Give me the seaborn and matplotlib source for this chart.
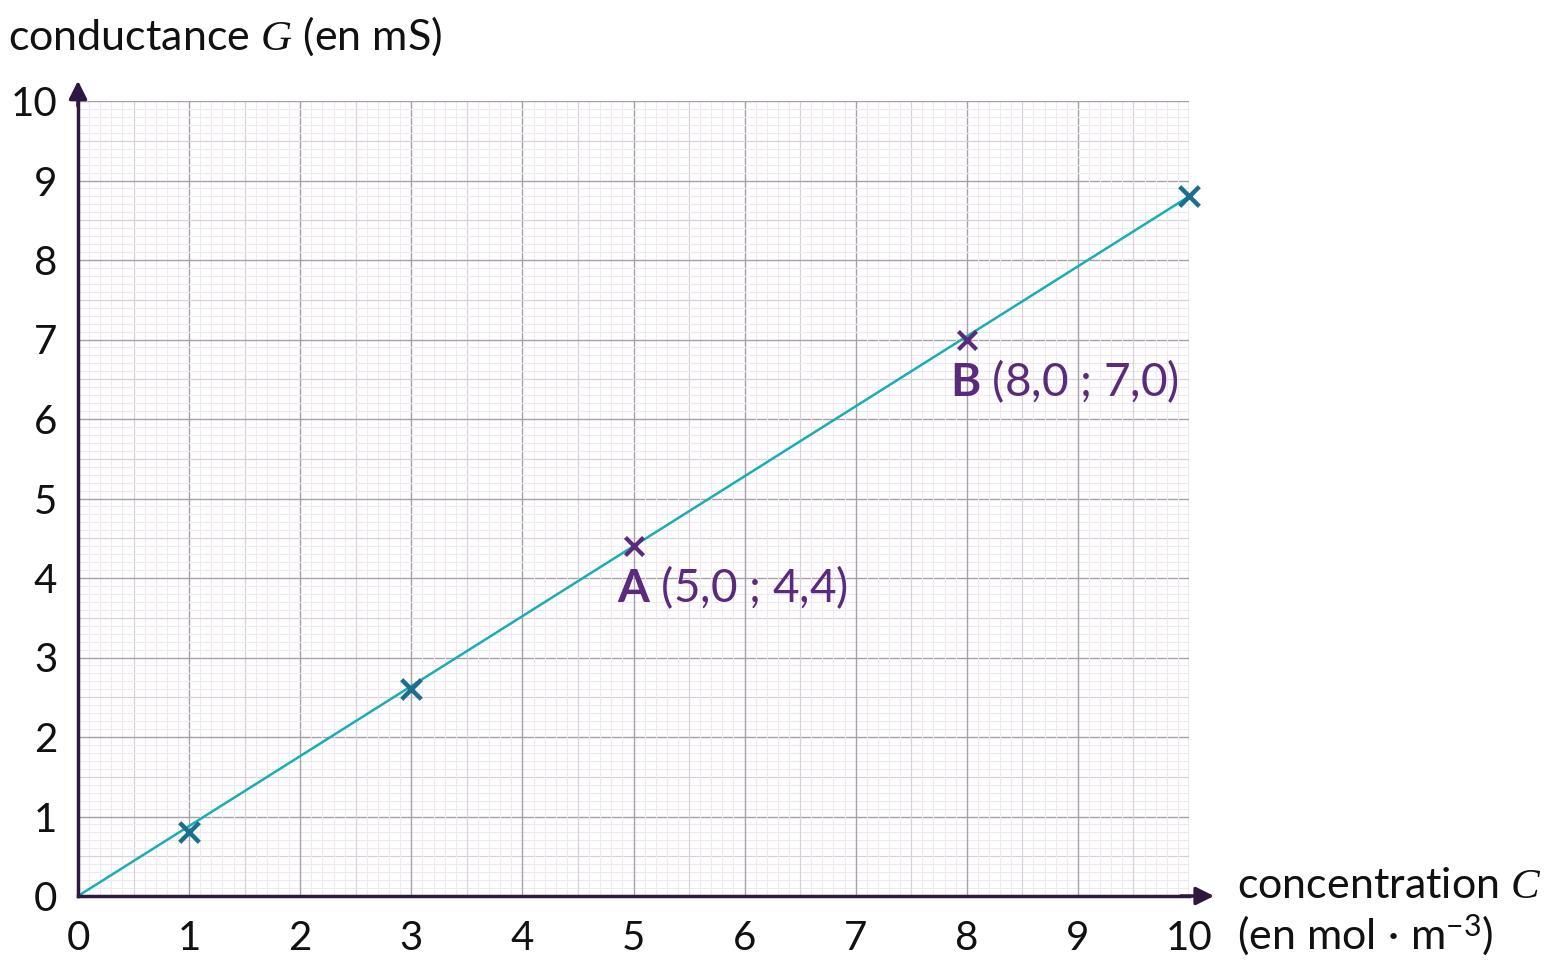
import matplotlib
matplotlib.use("Agg")
import matplotlib.pyplot as plt
import seaborn as sns
import numpy as np
import pandas as pd

# data
conc_meas = [1, 3, 10]
cond_meas = [0.8, 2.6, 8.8]
pt_labels = ["A", "B"]
pt_conc = [5.0, 8.0]
pt_cond = [4.4, 7.0]
fit_conc = [0, 10]
fit_cond = [0, 8.8]
xticks = list(range(0, 11))
yticks = list(range(0, 11))

sns.set_theme(style="white")
plt.rcParams['font.family'] = ['Lato', 'DejaVu Sans']
plt.rcParams['mathtext.fontset'] = 'custom'
plt.rcParams['mathtext.rm'] = 'Lato'
plt.rcParams['mathtext.it'] = 'Liberation Serif:italic'
plt.rcParams['mathtext.bf'] = 'Lato:bold'

AX = '#2e1840'
TEAL = '#1aaeb4'
BLUE = '#1d6d8e'
PURP = '#5a2a7c'
TXT = '#111111'

fig = plt.figure(figsize=(15.62, 9.74), dpi=100)
ax = fig.add_axes([78/1562, 78/974, (1189-78)/1562, (896-101)/974])
ax.set_xlim(0, 10)
ax.set_ylim(0, 10)

# grids
for v in np.arange(0, 10.001, 0.1):
    r = round(v * 10)
    if r % 10 == 0:
        c, lw = '#aa9eab', 1.0
    elif r % 5 == 0:
        c, lw = '#d9d0d9', 0.9
    else:
        c, lw = '#efe9ef', 0.8
    ax.axvline(v, color=c, lw=lw, zorder=0)
    ax.axhline(v, color=c, lw=lw, zorder=0)

df_fit = pd.DataFrame({"C": fit_conc, "G": fit_cond})
sns.lineplot(data=df_fit, x="C", y="G", ax=ax, color=TEAL, lw=1.8, zorder=3)
df_m = pd.DataFrame({"C": conc_meas, "G": cond_meas})
sns.scatterplot(data=df_m, x="C", y="G", ax=ax, marker='x', s=200, color=BLUE,
                linewidth=3.2, zorder=4, clip_on=False)
df_p = pd.DataFrame({"C": pt_conc, "G": pt_cond, "L": pt_labels})
sns.scatterplot(data=df_p, x="C", y="G", ax=ax, marker='x', s=170, color=PURP,
                linewidth=3.0, zorder=4, clip_on=False)
for lab, cx, gy in zip(pt_labels, pt_conc, pt_cond):
    txt = r"$\mathbf{%s}$ (%s ; %s)" % (lab, f"{cx:.1f}".replace('.', ','), f"{gy:.1f}".replace('.', ','))
    ax.text(cx - 0.15, gy - 0.22, txt, color=PURP, fontsize=33, ha='left', va='top', zorder=5)

ax.set_xlabel("")
ax.set_ylabel("")
ax.set_xticks(xticks)
ax.set_yticks(yticks)
ax.set_xticklabels([str(t) for t in xticks], fontsize=29, color=TXT)
ax.set_yticklabels([str(t) for t in yticks], fontsize=29, color=TXT)
ax.tick_params(axis='both', length=0)
ax.tick_params(axis='x', pad=17)
ax.tick_params(axis='y', pad=15)

for s in ['top', 'right']:
    ax.spines[s].set_visible(False)
ax.spines['left'].set_color(AX)
ax.spines['bottom'].set_color(AX)
ax.spines['left'].set_linewidth(2.5)
ax.spines['bottom'].set_linewidth(2.5)
ax.spines['left'].set_zorder(6)
ax.spines['bottom'].set_zorder(6)

# arrows
ax.annotate("", xy=(10.25, 0), xytext=(9.9, 0), xycoords='data',
            arrowprops=dict(arrowstyle='-|>,head_length=0.9,head_width=0.45', color=AX, lw=2.5),
            annotation_clip=False, zorder=7)
ax.annotate("", xy=(0, 10.29), xytext=(0, 9.9), xycoords='data',
            arrowprops=dict(arrowstyle='-|>,head_length=0.9,head_width=0.45', color=AX, lw=2.5),
            annotation_clip=False, zorder=7)

fig.text(8/1562, 1 - 36/974, r"conductance $G$ (en mS)", fontsize=31, ha='left', va='center', color=TXT)
fig.text(1237/1562, 1 - 886/974, r"concentration $C$", fontsize=31, ha='left', va='center', color=TXT)
fig.text(1237/1562, 1 - 935/974, r"(en mol$\,\bullet\,$m$^{-3}$)", fontsize=31, ha='left', va='center', color=TXT)

fig.savefig("out.png", dpi=100)
